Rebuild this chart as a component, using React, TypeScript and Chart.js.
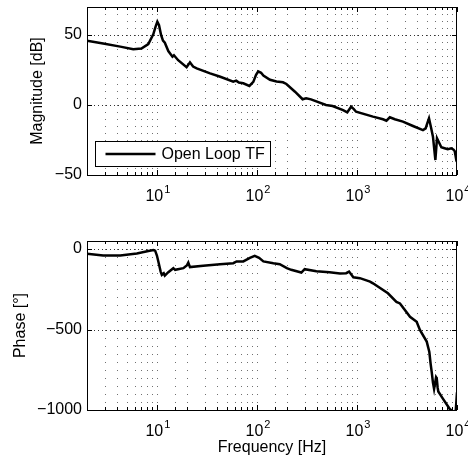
import React, { useEffect, useRef } from 'react';
import { Chart, registerables } from 'chart.js';

Chart.register(...registerables);

// ---- data ----
const magFreq = [2, 2.9, 4.3, 5.8, 7.0, 8.2, 9.2, 9.7, 10.1, 10.5, 11.0, 11.5, 12.0, 13.0, 14.3, 14.8, 16.3, 19.8, 20.5, 21.4, 23, 25, 34, 43, 58, 62, 66, 73, 84, 92, 98, 103, 110, 116, 135, 157, 182, 197, 240, 286, 310, 347, 490, 570, 726, 800, 850, 875, 930, 980, 1445, 1820, 1970, 2130, 2390, 2880, 3630, 4570, 4860, 5050, 5250, 5500, 5750, 6080, 6310, 6970, 7500, 8090, 8750, 9240, 9500, 9870, 10000];
const magDb = [45.9, 44, 41.7, 39.8, 40.3, 43.5, 50.5, 56, 59.5, 57, 50, 46, 44.5, 38.5, 34.5, 35.5, 32, 27, 28.5, 30.5, 27.5, 26.2, 22.6, 20.2, 16.7, 17.4, 16, 15.5, 13.6, 16.5, 21.5, 24, 23, 21, 18, 16.8, 16.2, 15, 9.5, 4.1, 4.8, 4, 0, -0.7, -3.6, -5.2, -2.5, -1.2, -3, -4.8, -8.3, -10.2, -11.2, -8.8, -10.2, -11.9, -15, -17.9, -16.7, -13, -9.5, -16, -22.6, -39.3, -23.8, -30.2, -30.9, -31.6, -30.9, -32, -33, -39.8, -40.5];

const phaseFreq = [2, 2.9, 4.3, 6.3, 8.0, 9.2, 9.6, 10.0, 10.4, 10.9, 11.2, 11.7, 12.0, 13.0, 14.6, 15.2, 18.4, 20.0, 20.6, 21.4, 29, 42.7, 58, 62.6, 73, 85, 95, 105, 116, 146, 169, 199, 220, 278, 300, 393, 532, 676, 780, 834, 920, 1070, 1350, 1445, 2040, 2480, 2690, 3390, 3950, 4270, 4980, 5290, 5450, 5590, 5750, 5900, 6180, 6270, 6400, 6500, 7250, 8470, 9140, 9700, 10000];
const phaseDeg = [-29, -40, -40, -27, -14, -6, -10, -40, -85, -140, -160, -150, -165, -144, -119, -129, -119, -100, -84, -112, -104, -94, -88, -77, -77, -55, -42, -55, -77, -88, -94, -119, -129, -146, -125, -138, -144, -152, -150, -140, -175, -181, -202, -213, -275, -328, -338, -421, -452, -504, -575, -640, -713, -765, -830, -869, -796, -802, -860, -885, -931, -994, -1010, -1010, -890];

const decadeValues = [10, 100, 1000, 10000];
const decadeBase = '10';
const decadeExponents = ['1', '2', '3', '4'];
const magTickValues = [-50, 0, 50];
const phaseTickValues = [-1000, -500, 0];

const legendLabel = 'Open Loop TF';
const FONT = "'Liberation Sans', Arial, Helvetica, sans-serif";

const isDecade = (v: number) => decadeValues.some((d) => Math.abs(d - v) < 1e-6 * d);

const matlabAxes = {
  id: 'matlabAxes',
  beforeDatasetsDraw(chart: any) {
    const { ctx, chartArea: a } = chart;
    const x = chart.scales.x;
    const y = chart.scales.y;
    const labelled: number[] = chart.options.plugins.matlabAxes.majorY;
    const xs = x.ticks.map((t: any) => Math.round(x.getPixelForValue(t.value)));
    const ys = y.ticks.map((t: any) => ({ p: Math.round(y.getPixelForValue(t.value)), major: labelled.includes(t.value) }));
    ctx.save();
    ctx.fillStyle = '#707070';
    for (const px of xs) {
      if (px <= a.left + 1 || px >= a.right - 1) continue;
      for (const yy of ys) {
        if (yy.p <= a.top + 1 || yy.p >= a.bottom - 1) continue;
        ctx.fillRect(px, yy.p, 1, 1);
      }
    }
    ctx.fillStyle = '#333';
    for (const yy of ys) {
      if (!yy.major || yy.p <= a.top + 1 || yy.p >= a.bottom - 1) continue;
      for (let px = Math.round(a.left) + 3; px < a.right - 1; px += 4) ctx.fillRect(px, yy.p, 1, 1);
    }
    ctx.restore();
  },
  afterDatasetsDraw(chart: any) {
    const { ctx, chartArea: a } = chart;
    const x = chart.scales.x;
    const y = chart.scales.y;
    const labelled: number[] = chart.options.plugins.matlabAxes.majorY;
    ctx.save();
    ctx.strokeStyle = '#000';
    ctx.lineWidth = 1;
    ctx.beginPath();
    for (const t of x.ticks) {
      const px = Math.round(x.getPixelForValue(t.value)) + 0.5;
      const len = isDecade(t.value) ? 5 : 3;
      ctx.moveTo(px, a.bottom); ctx.lineTo(px, a.bottom - len);
      ctx.moveTo(px, a.top); ctx.lineTo(px, a.top + len);
    }
    for (const v of labelled) {
      const py = Math.round(y.getPixelForValue(v)) + 0.5;
      ctx.moveTo(a.left, py); ctx.lineTo(a.left + 5, py);
      ctx.moveTo(a.right, py); ctx.lineTo(a.right - 5, py);
    }
    ctx.stroke();
    ctx.strokeRect(Math.round(a.left) + 0.5, Math.round(a.top) + 0.5, Math.round(a.right - a.left) - 1, Math.round(a.bottom - a.top));

    // decade tick labels 10^n
    ctx.fillStyle = '#000';
    ctx.textBaseline = 'alphabetic';
    ctx.textAlign = 'left';
    const baseFont = `16px ${FONT}`;
    const expFont = `11px ${FONT}`;
    decadeValues.forEach((v, i) => {
      const px = x.getPixelForValue(v);
      ctx.font = baseFont;
      const wb = ctx.measureText(decadeBase).width;
      ctx.font = expFont;
      const we = ctx.measureText(decadeExponents[i]).width;
      const left = px - (wb + we + 1) / 2 + 1;
      const baseY = a.bottom + 26;
      ctx.font = baseFont;
      ctx.fillText(decadeBase, left, baseY);
      ctx.font = expFont;
      ctx.fillText(decadeExponents[i], left + wb + 1, baseY - 8);
    });

    if (chart.options.plugins.matlabAxes.legend) {
      const ds = chart.data.datasets[0];
      const bx = Math.round(a.left) + 8.5;
      const by = Math.round(a.bottom) - 33.5;
      const bw = 175;
      const bh = 25;
      ctx.fillStyle = '#fff';
      ctx.fillRect(bx, by, bw, bh);
      ctx.strokeRect(bx, by, bw, bh);
      ctx.beginPath();
      ctx.lineWidth = ds.borderWidth;
      ctx.moveTo(bx + 10, by + bh / 2);
      ctx.lineTo(bx + 60, by + bh / 2);
      ctx.stroke();
      ctx.fillStyle = '#000';
      ctx.font = `16px ${FONT}`;
      ctx.textBaseline = 'middle';
      ctx.textAlign = 'left';
      ctx.fillText(ds.label, bx + 66, by + bh / 2 + 1);
    }
    ctx.restore();
  },
};

function fmt(v: number) {
  return v < 0 ? '\u2212' + Math.abs(v) : String(v);
}

function buildOptions(p: {
  yMin: number; yMax: number; step: number; majorY: number[]; yTitle: string; yTitlePad: number;
  padTop: number; xHeight: number; xTitle?: string; legend: boolean;
}): any {
  return {
    responsive: false,
    animation: false,
    devicePixelRatio: 1,
    layout: { padding: { left: 0, right: 11, top: p.padTop, bottom: 0 } },
    plugins: {
      legend: { display: false },
      tooltip: { enabled: false },
      matlabAxes: { majorY: p.majorY, legend: p.legend },
    },
    elements: { point: { radius: 0 }, line: { tension: 0 } },
    scales: {
      x: {
        type: 'logarithmic',
        min: 2,
        max: 10000,
        afterFit: (s: any) => { s.height = p.xHeight; s.paddingLeft = 0; s.paddingRight = 0; },
        grid: { display: false, drawTicks: false },
        border: { display: false },
        ticks: {
          autoSkip: false,
          maxRotation: 0,
          padding: 10,
          color: '#000',
          font: { family: FONT, size: 16 },
          callback: () => '',
        },
        title: p.xTitle
          ? { display: true, text: p.xTitle, color: '#000', font: { family: FONT, size: 16 }, padding: { top: 0, bottom: 4 } }
          : { display: false },
      },
      y: {
        type: 'linear',
        min: p.yMin,
        max: p.yMax,
        afterFit: (s: any) => { s.width = 87; s.paddingTop = 0; s.paddingBottom = 0; },
        grid: { display: false, drawTicks: false },
        border: { display: false },
        ticks: {
          stepSize: p.step,
          maxTicksLimit: 200,
          autoSkip: false,
          padding: 5,
          color: '#000',
          font: { family: FONT, size: 16 },
          callback: (v: any) => (p.majorY.includes(Number(v)) ? fmt(Number(v)) : ''),
        },
        title: { display: true, text: p.yTitle, color: '#000', font: { family: FONT, size: 16 }, padding: { top: p.yTitlePad, bottom: 0 } },
      },
    },
  };
}

export default function App() {
  const magRef = useRef<HTMLCanvasElement>(null);
  const phRef = useRef<HTMLCanvasElement>(null);

  useEffect(() => {
    const magChart = new Chart(magRef.current!, {
      type: 'line',
      data: {
        datasets: [{
          label: legendLabel,
          data: magFreq.map((f, i) => ({ x: f, y: magDb[i] })),
          borderColor: '#000',
          backgroundColor: '#000',
          borderWidth: 2.5,
          fill: false,
        }],
      },
      options: buildOptions({ yMin: -50, yMax: 70, step: 5, majorY: magTickValues, yTitle: 'Magnitude [dB]', yTitlePad: 28, padTop: 7, xHeight: 55, legend: true }),
      plugins: [matlabAxes],
    } as any);
    const phChart = new Chart(phRef.current!, {
      type: 'line',
      data: {
        datasets: [{
          label: legendLabel,
          data: phaseFreq.map((f, i) => ({ x: f, y: phaseDeg[i] })),
          borderColor: '#000',
          backgroundColor: '#000',
          borderWidth: 2.5,
          fill: false,
        }],
      },
      options: buildOptions({ yMin: -1000, yMax: 50, step: 50, majorY: phaseTickValues, yTitle: 'Phase [\u00b0]', yTitlePad: 11, padTop: 11, xHeight: 51, xTitle: 'Frequency [Hz]', legend: false }),
      plugins: [matlabAxes],
    } as any);
    return () => {
      magChart.destroy();
      phChart.destroy();
    };
  }, []);

  return (
    <div style={{ position: 'absolute', left: 0, top: 0, width: 468, height: 461, background: '#fff' }}>
      <canvas ref={magRef} width={468} height={230} style={{ position: 'absolute', left: 0, top: 0, width: 468, height: 230 }} />
      <canvas ref={phRef} width={468} height={231} style={{ position: 'absolute', left: 0, top: 230, width: 468, height: 231 }} />
    </div>
  );
}
